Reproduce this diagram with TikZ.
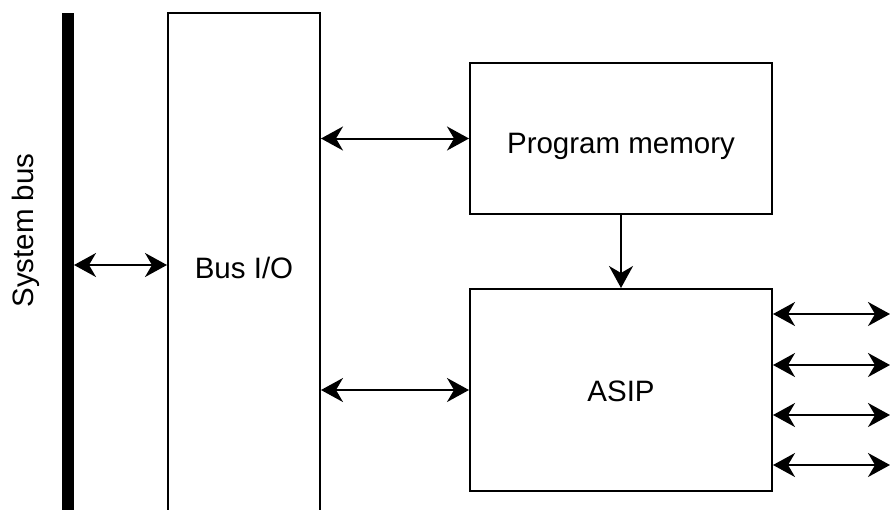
\documentclass[tikz,border=0pt]{standalone}
\usepackage{fontspec}
\setmainfont{Liberation Sans}
\usetikzlibrary{arrows.meta}
\begin{document}
\begin{tikzpicture}[x=1pt,y=-1pt,
  blk/.style={draw, line width=2pt, rectangle, inner sep=0pt},
  both/.style={line width=2pt, {Stealth[length=22pt 0 0,width=24pt 0 0,inset=7pt]}-{Stealth[length=22pt 0 0,width=24pt 0 0,inset=7pt]}},
  one/.style={line width=2pt, -{Stealth[length=22pt 0 0,width=24pt 0 0,inset=7pt]}},
  txt/.style={font=\fontsize{29.5}{35}\selectfont, text height=21pt, text depth=0pt, inner sep=0pt}]
\useasboundingbox (0,0) rectangle (890,509);
\clip (0,0) rectangle (890,509);

% system bus bar
\node[fill=black, inner sep=0pt, minimum width=12pt, minimum height=517pt] (bus) at (68,271.5) {};
\node[txt, rotate=90] (buslabel) at (22.5,230.5) {System bus};

% bus interface block (runs off the bottom edge)
\node[blk, minimum width=152pt, minimum height=527pt] (busio) at (244,276.5) {};
\node[txt] (busiolabel) at (244,267.5) {Bus I/O};

% program memory and processor
\node[blk, minimum width=302pt, minimum height=151pt] (pm) at (621,138.5) {};
\node[txt] (pmlabel) at (621,142.5) {Program memory};
\node[blk, minimum width=302pt, minimum height=202pt] (asip) at (621,390) {};
\node[txt] (asiplabel) at (621,391) {ASIP};

% connections
\coordinate (busport) at (74,265);
\draw[both] (busport) -- (busport -| busio.west);
\draw[both] (pm.west -| busio.east) -- (pm.west);
\draw[both] (asip.west -| busio.east) -- (asip.west);
\draw[one] (pm.south) -- (asip.north);

% external ports of the processor
\coordinate (p1) at (890,314);
\coordinate (p2) at (890,365);
\coordinate (p3) at (890,415);
\coordinate (p4) at (890,465);
\foreach \p in {p1,p2,p3,p4}
  \draw[both] (asip.east |- \p) -- (\p);
\end{tikzpicture}
\end{document}
